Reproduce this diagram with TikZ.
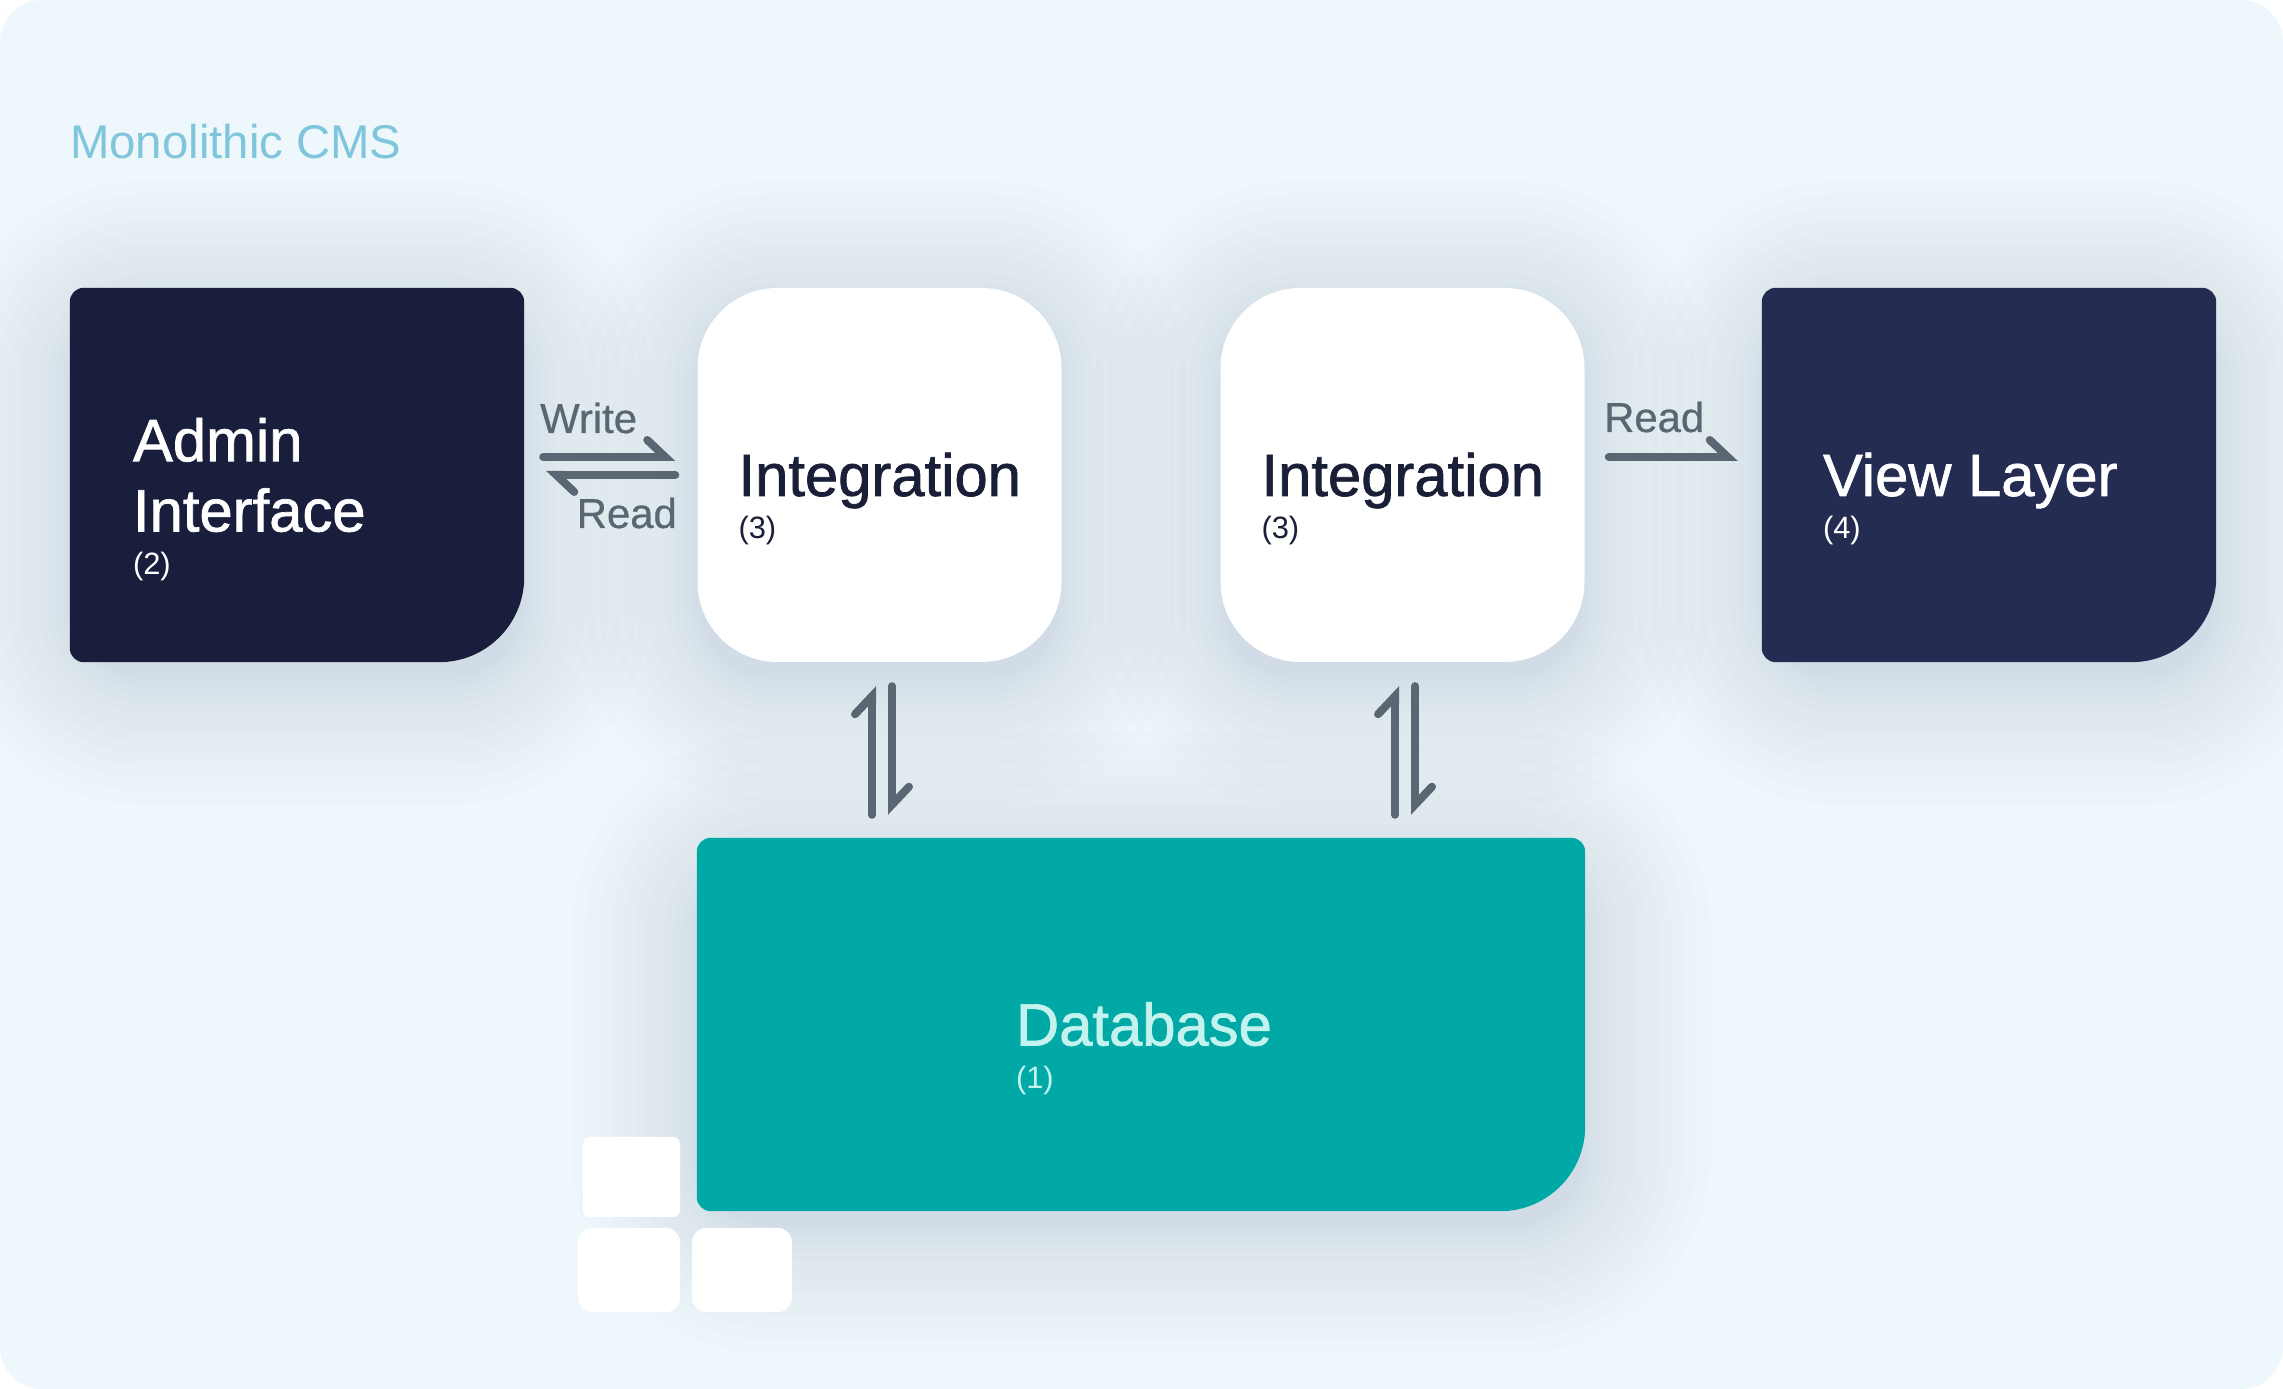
\documentclass[tikz,border=0pt]{standalone}
\usepackage{fontspec}
\setmainfont{Liberation Sans}
\newfontfamily\titlefont[FakeBold=1.2]{Liberation Sans}
\newfontfamily\flowfont[FakeBold=0.6]{Liberation Sans}
\usetikzlibrary{positioning,calc,arrows.meta}
\pgfdeclarelayer{shadow}
\pgfdeclarelayer{card}
\pgfsetlayers{shadow,card,main}
\definecolor{panelcol}{HTML}{EEF8FC}
\definecolor{shadowcol}{HTML}{5F7A9A}
\definecolor{admincol}{HTML}{181E3C}
\definecolor{viewcol}{HTML}{252C52}
\definecolor{dbcol}{HTML}{00A9A5}
\definecolor{flowcol}{HTML}{5A6772}
\definecolor{headcol}{HTML}{7FC5DC}
\definecolor{inkcol}{HTML}{1A1F38}
\definecolor{dbtextcol}{HTML}{C4F3EF}
\tikzset{
  card/.style={minimum height=374bp,inner sep=0pt},
  whitecard/.style={card,minimum width=364bp,fill=white,rounded corners=80bp},
  titletext/.style={inner sep=0pt,align=left,font=\titlefont\fontsize{60}{70.5}\selectfont},
  oneline/.style={text height=55bp,text depth=13bp},
  subtext/.style={inner sep=0pt,font=\fontsize{31}{36}\selectfont},
  flowtext/.style={inner sep=0pt,text=flowcol,font=\flowfont\fontsize{42}{48}\selectfont},
  flow/.style={draw=flowcol,line width=8bp,line cap=round,
    -{Straight Barb[harpoon,length=18bp,width=34bp,line cap=round]}},
  tile/.style={fill=white,inner sep=0pt,rounded corners=14bp}
}
% dark card: one wide corner at the lower right, soft corners elsewhere
\newcommand{\cardfill}[2]{
  \begin{pgfonlayer}{card}
    \fill[#2] let \p1=(#1.north west),\p2=(#1.south east) in
      (\x1+14bp,\y1) -- (\x2-14bp,\y1) arc (90:0:14bp) -- (\x2,\y2+85bp)
      arc (0:-90:85bp) -- (\x1+14bp,\y2) arc (270:180:14bp) -- (\x1,\y1-14bp)
      arc (180:90:14bp) -- cycle;
  \end{pgfonlayer}
}
% stacked translucent frames give the wide soft shadow
\newcommand{\softshadow}[1]{
  \begin{pgfonlayer}{shadow}
    \foreach \i in {1,...,14} {
      \pgfmathsetmacro{\s}{-5+130*(\i/14)^1.5}
      \pgfmathsetmacro{\r}{\s+75}
      \fill[shadowcol,opacity=0.01,rounded corners=\r bp]
        ($(#1.north west)+(-\s bp,\s bp-18bp)$) rectangle ($(#1.south east)+(\s bp,-\s bp-18bp)$);
    }
  \end{pgfonlayer}
}
\begin{document}
\begin{tikzpicture}[>=latex]
  \useasboundingbox (0bp,0bp) rectangle (2283bp,1389bp);
  \begin{pgfonlayer}{shadow}
    \fill[panelcol,rounded corners=42bp] (0bp,0bp) rectangle (2283bp,1389bp);
  \end{pgfonlayer}
  \node[anchor=base west,inner sep=0pt,text=headcol,font=\fontsize{47.5}{54}\selectfont] (heading) at (70bp,1230.5bp) {Monolithic CMS};
  % Node: Admin Interface
  \node[card,minimum width=454bp] (admin) at (297bp,914bp) {};
  \cardfill{admin}{admincol}
  \softshadow{admin}
  \node[titletext,text=white,anchor=west] (admintitle) at ([xshift=63bp]admin.west) {Admin\\Interface};
  \node[subtext,text=white,below right=20bp and 0bp of admintitle.south west] (adminsub) {(2)};
  % Node: Integration, left
  \node[whitecard] (integrationa) at (879.5bp,914bp) {};
  \softshadow{integrationa}
  \node[titletext,oneline,text=inkcol,anchor=west] (integrationatitle) at ([xshift=41bp]integrationa.west) {Integration};
  \node[subtext,text=inkcol,below right=7bp and 0bp of integrationatitle.south west] (integrationasub) {(3)};
  % Node: Integration, right
  \node[whitecard] (integrationb) at (1402.5bp,914bp) {};
  \softshadow{integrationb}
  \node[titletext,oneline,text=inkcol,anchor=west] (integrationbtitle) at ([xshift=41bp]integrationb.west) {Integration};
  \node[subtext,text=inkcol,below right=7bp and 0bp of integrationbtitle.south west] (integrationbsub) {(3)};
  % Node: View Layer
  \node[card,minimum width=454bp] (view) at (1989bp,914bp) {};
  \cardfill{view}{viewcol}
  \softshadow{view}
  \node[titletext,oneline,text=white,anchor=west] (viewtitle) at ([xshift=61bp]view.west) {View Layer};
  \node[subtext,text=white,below right=7bp and 0bp of viewtitle.south west] (viewsub) {(4)};
  % Node: Database
  \node[card,minimum width=888bp,minimum height=373bp] (database) at (1141bp,364.5bp) {};
  \cardfill{database}{dbcol}
  \softshadow{database}
  \node[titletext,oneline,text=dbtextcol,anchor=west] (databasetitle) at ([xshift=319bp]database.west) {Database};
  \node[subtext,text=dbtextcol,below right=7bp and 0bp of databasetitle.south west] (databasesub) {(1)};
  % Small tiles beside the database
  \node[tile,rounded corners=7bp,minimum width=97bp,minimum height=80bp] (tilea) at (631.5bp,212bp) {};
  \node[tile,minimum width=102bp,minimum height=84bp] (tileb) at (629bp,119bp) {};
  \node[tile,minimum width=100bp,minimum height=84bp] (tilec) at (742bp,119bp) {};
  % Edge: Admin Interface <-> Integration
  \draw[flow] ([xshift=19bp,yshift=18bp]admin.east) -- ([xshift=-22bp,yshift=18bp]integrationa.west);
  \draw[flow] ([xshift=-22bp]integrationa.west) -- ([xshift=22bp]admin.east);
  \node[flowtext,anchor=base west] (writelabel) at (540bp,956bp) {Write};
  \node[flowtext,anchor=base east] (readlabela) at (677bp,861bp) {Read};
  % Edge: Integration -> View Layer
  \draw[flow] ([xshift=24bp,yshift=18bp]integrationb.east) -- ([xshift=-24bp,yshift=18bp]view.west);
  \node[flowtext,anchor=base west] (readlabelb) at (1604bp,957bp) {Read};
  % Edge: Integration <-> Database
  \draw[flow] ($(integrationa.south |- database.north)+(-7.5bp,23bp)$) -- ([xshift=-7.5bp,yshift=-24bp]integrationa.south);
  \draw[flow] ([xshift=12.5bp,yshift=-24bp]integrationa.south) -- ($(integrationa.south |- database.north)+(12.5bp,23bp)$);
  \draw[flow] ($(integrationb.south |- database.north)+(-7.5bp,23bp)$) -- ([xshift=-7.5bp,yshift=-24bp]integrationb.south);
  \draw[flow] ([xshift=12.5bp,yshift=-24bp]integrationb.south) -- ($(integrationb.south |- database.north)+(12.5bp,23bp)$);
\end{tikzpicture}
\end{document}
